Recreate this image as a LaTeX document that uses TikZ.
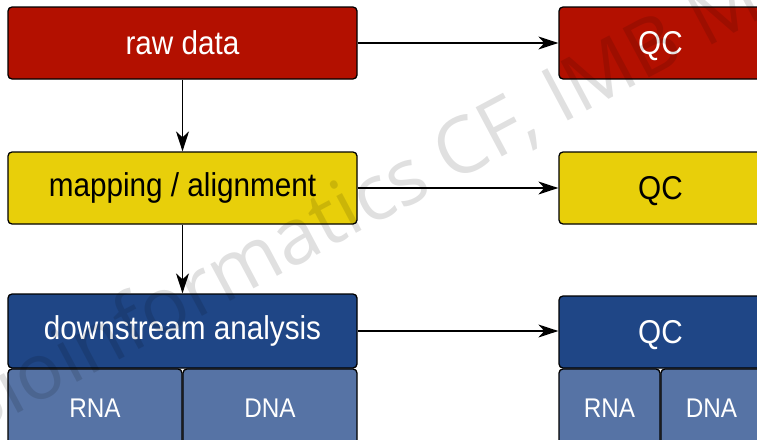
\documentclass[tikz,border=0pt]{standalone}
\usepackage{fontspec}
\setmainfont{Liberation Sans}[FakeStretch=0.9]
\newfontfamily\wmfont{Open Sans}
\usetikzlibrary{arrows.meta}
\definecolor{cred}{HTML}{B31000}
\definecolor{cyel}{HTML}{E8CF0A}
\definecolor{cblue}{HTML}{1F4686}
\definecolor{clblue}{HTML}{5673A5}
\tikzset{
  box/.style={draw=black, line width=1.3pt, rounded corners=4pt, inner sep=0pt, font=\fontsize{33}{40}\selectfont},
  subbox/.style={box, fill=clblue, text=white, font=\fontsize{27}{32}\selectfont},
  arr/.style={line width=1.5pt, -{Stealth[length=20pt,width=13pt,inset=6pt]}},
}
\begin{document}
\begin{tikzpicture}[x=1pt,y=-1pt]
\useasboundingbox (0,0) rectangle (757,439);
\clip (0,0) rectangle (757,439);
\fill[white] (0,0) rectangle (757,439);
% left column
\node[box, fill=cred, text=white, minimum width=349pt, minimum height=72pt] (raw) at (182.5,43) {raw data};
\node[box, fill=cyel, text=black, minimum width=349pt, minimum height=72pt] (map) at (182.5,188) {mapping / alignment};
\node[box, fill=cblue, text=white, minimum width=349pt, minimum height=74pt] (down) at (182.5,331) {downstream analysis};
\node[subbox, minimum width=174pt, minimum height=78pt] (rna1) at (95,408) {RNA};
\node[subbox, minimum width=174pt, minimum height=78pt] (dna1) at (270,408) {DNA};
% right column
\node[box, fill=cred, text=white, minimum width=203pt, minimum height=72pt, text depth=0pt] (qc1) at (660.5,43) {QC};
\node[box, fill=cyel, text=black, minimum width=203pt, minimum height=72pt, text depth=0pt] (qc2) at (660.5,188) {QC};
\node[box, fill=cblue, text=white, minimum width=203pt, minimum height=72pt, text depth=0pt] (qc3) at (660.5,332) {QC};
\node[subbox, minimum width=101pt, minimum height=78pt] (rna2) at (609.5,408) {RNA};
\node[subbox, minimum width=101pt, minimum height=78pt] (dna2) at (711.5,408) {DNA};
% connectors
\draw[arr] (raw.east) -- (raw.east -| qc1.west);
\draw[arr] (map.east) -- (map.east -| qc2.west);
\draw[arr] (down.east) -- (down.east -| qc3.west);
\draw[arr] (raw.south) -- (map.north);
\draw[arr] (map.south) -- (down.north);
% watermark
\node[rotate=28, text=black, text opacity=0.12, font=\wmfont\fontsize{78}{84}\selectfont] (wm) at (356,206) {Bioinformatics CF, IMB M};
\end{tikzpicture}
\end{document}
